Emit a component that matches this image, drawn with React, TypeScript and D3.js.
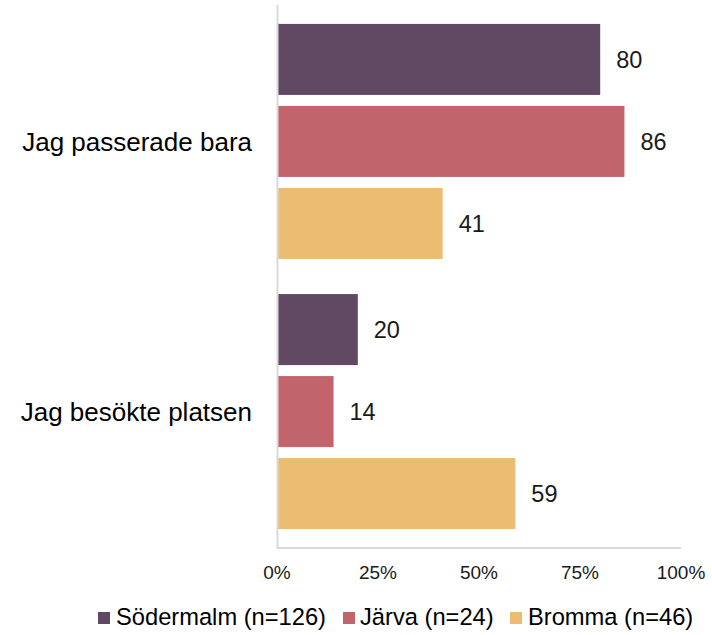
import React from "react";
import * as d3 from "d3";

const categories = ["Jag passerade bara", "Jag besökte platsen"];
const seriesNames = ["Södermalm (n=126)", "Järva (n=24)", "Bromma (n=46)"];
const seriesColors = ["#614863", "#c1646c", "#ebbc71"];
const sodermalm = [80, 20];
const jarva = [86, 14];
const bromma = [41, 59];
const tickValues = [0, 25, 50, 75, 100];

const W = 712;
const H = 635;
const FONT = "'Liberation Sans', Arial, sans-serif";

export default function App() {
  const seriesValues = [sodermalm, jarva, bromma];
  const x = d3.scaleLinear().domain([0, 100]).range([277, 681]);
  const y0 = d3
    .scaleBand<string>()
    .domain(categories)
    .range([5, 548])
    .paddingInner(0.13)
    .paddingOuter(0.07);
  const y1 = d3
    .scaleBand<string>()
    .domain(seriesNames)
    .range([0, y0.bandwidth()])
    .paddingInner(0.134)
    .paddingOuter(0);

  const legendPos = [
    { sq: 98, tx: 116 },
    { sq: 343, tx: 360 },
    { sq: 510, tx: 528 },
  ];

  return (
    <svg
      width={W}
      height={H}
      style={{ position: "absolute", left: 0, top: 0, background: "#fff" }}
      fontFamily={FONT}
    >
      {categories.map((c, ci) => (
        <g key={c}>
          {seriesNames.map((s, si) => {
            const v = seriesValues[si][ci];
            const yy = (y0(c) as number) + (y1(s) as number);
            return (
              <g key={s}>
                <rect
                  x={x(0)}
                  y={yy}
                  width={x(v) - x(0)}
                  height={y1.bandwidth()}
                  fill={seriesColors[si]}
                />
                <text
                  x={x(v) + 16}
                  y={yy + y1.bandwidth() / 2}
                  dy="0.35em"
                  fontSize={23.5}
                  fill="#1a1a1a"
                >
                  {v}
                </text>
              </g>
            );
          })}
          <text
            x={252}
            y={(y0(c) as number) + y0.bandwidth() / 2}
            dy="0.35em"
            textAnchor="end"
            fontSize={26}
            fill="#000"
          >
            {c}
          </text>
        </g>
      ))}
      <line x1={277.5} x2={277.5} y1={5} y2={549} stroke="#d9d9d9" strokeWidth={2} />
      <line x1={276.5} x2={681} y1={548} y2={548} stroke="#d9d9d9" strokeWidth={2} />
      {tickValues.map((t) => (
        <text
          key={t}
          x={x(t)}
          y={572}
          dy="0.35em"
          textAnchor="middle"
          fontSize={19}
          fill="#1a1a1a"
        >
          {t}%
        </text>
      ))}
      {seriesNames.map((s, si) => (
        <g key={s}>
          <rect x={legendPos[si].sq} y={612} width={12} height={12} fill={seriesColors[si]} />
          <text x={legendPos[si].tx} y={617} dy="0.35em" fontSize={23.7} fill="#000">
            {s}
          </text>
        </g>
      ))}
    </svg>
  );
}
